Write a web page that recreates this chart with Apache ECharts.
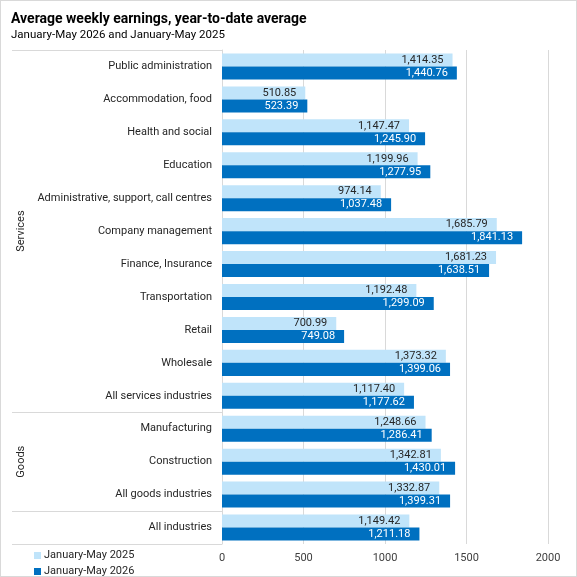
<!DOCTYPE html>
<html>
<head>
<meta charset="utf-8">
<script src="https://cdn.jsdelivr.net/npm/echarts@6/dist/echarts.min.js"></script>
<style>
html,body{margin:0;padding:0;background:#fff;}
#c{width:575px;height:575px;border:1px solid #d9d9d9;}
</style>
</head>
<body>
<div id="c"></div>
<script>
var categories = ['Public administration','Accommodation, food','Health and social','Education','Administrative, support, call centres','Company management','Finance, Insurance','Transportation','Retail','Wholesale','All services industries','Manufacturing','Construction','All goods industries','All industries'];
var values2025 = [1414.35, 510.85, 1147.47, 1199.96, 974.14, 1685.79, 1681.23, 1192.48, 700.99, 1373.32, 1117.40, 1248.66, 1342.81, 1332.87, 1149.42];
var values2026 = [1440.76, 523.39, 1245.90, 1277.95, 1037.48, 1841.13, 1638.51, 1299.09, 749.08, 1399.06, 1177.62, 1286.41, 1430.01, 1399.31, 1211.18];
var groups = [{name:'Services', from:0, to:10},{name:'Goods', from:11, to:13},{name:'', from:14, to:14}];
var seriesNames = ['January-May 2025','January-May 2026'];
var xTicks = [0, 500, 1000, 1500, 2000];

var FONT = 'Roboto';
function fmt(v){
  return v.toLocaleString('en-US',{minimumFractionDigits:2, maximumFractionDigits:2});
}
var chart = echarts.init(document.getElementById('c'));
var option = {
  animation:false,
  textStyle:{fontFamily:FONT},
  title:{
    text:'Average weekly earnings, year-to-date average',
    subtext:'January-May 2026 and January-May 2025',
    left:5, top:6, itemGap:3,
    textStyle:{fontSize:14, fontWeight:'bold', color:'#000', fontFamily:FONT},
    subtextStyle:{fontSize:11.5, color:'#000', fontFamily:FONT}
  },
  legend:{
    orient:'vertical', left:33, top:549, padding:0, itemWidth:7, itemHeight:7, itemGap:5,
    icon:'rect', height:28,
    data:seriesNames,
    textStyle:{fontSize:11, lineHeight:11, color:'#262626', fontFamily:FONT, padding:[0,0,0,-2]}
  },
  grid:{left:221, right:28, top:49, bottom:32, containLabel:false},
  xAxis:{
    type:'value', min:xTicks[0], max:xTicks[xTicks.length-1], interval:500,
    axisLine:{show:false}, axisTick:{show:false},
    splitLine:{lineStyle:{color:'#d9d9d9'}},
    axisLabel:{fontSize:11, color:'#404040', margin:9, formatter:function(v){return String(v);}}
  },
  yAxis:{
    type:'category', inverse:true, data:categories,
    axisLine:{lineStyle:{color:'#d9d9d9'}}, axisTick:{show:false},
    axisLabel:{fontSize:11, color:'#262626', margin:10}
  },
  series:[
    {name:seriesNames[0], type:'bar', data:values2025, barGap:'0%', barCategoryGap:'21%',
     itemStyle:{color:'#c0e4fa'},
     label:{show:true, position:'insideRight', distance:9, fontSize:11, color:'#262626',
       formatter:function(p){return fmt(p.value);}}},
    {name:seriesNames[1], type:'bar', data:values2026, barGap:'0%', barCategoryGap:'21%',
     itemStyle:{color:'#0070c0'},
     label:{show:true, position:'insideRight', distance:9, fontSize:11, color:'#ffffff',
       formatter:function(p){return fmt(p.value);}}}
  ]
};
chart.setOption(option);

// group brackets on the left, positioned from the axis scale
var y0 = chart.convertToPixel({yAxisIndex:0}, categories[0]);
var y1 = chart.convertToPixel({yAxisIndex:0}, categories[1]);
var band = y1 - y0;
var xAxisPx = chart.convertToPixel({xAxisIndex:0}, 0);
var leftX = 11;
var graphics = [];
function lineAt(y){
  graphics.push({type:'line', shape:{x1:leftX, y1:y, x2:xAxisPx, y2:y}, style:{stroke:'#d9d9d9', lineWidth:1}, silent:true});
}
lineAt(Math.round(y0 - band/2)+0.5);
groups.forEach(function(g){
  var top = chart.convertToPixel({yAxisIndex:0}, categories[g.from]) - band/2;
  var bot = chart.convertToPixel({yAxisIndex:0}, categories[g.to]) + band/2;
  lineAt(Math.round(bot)+0.5);
  if (g.name){
    graphics.push({type:'text', x:20, y:(top+bot)/2, rotation:Math.PI/2,
      style:{text:g.name, fontSize:11, fill:'#262626', fontFamily:FONT, align:'center', verticalAlign:'middle'}, silent:true});
  }
});
chart.setOption({graphic:graphics});
</script>
</body>
</html>
